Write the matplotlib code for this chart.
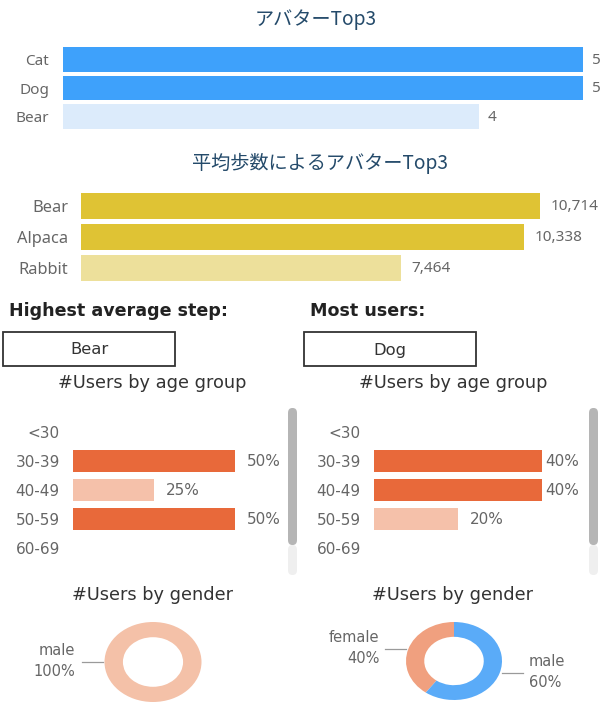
import matplotlib
matplotlib.use('Agg')
import matplotlib.pyplot as plt
from matplotlib.patches import Rectangle, FancyBboxPatch
from matplotlib.lines import Line2D
import numpy as np

# ---------------- data ----------------
top_title = 'アバターTop3'
top_cats = ['Cat', 'Dog', 'Bear']
top_vals = [5, 5, 4]

step_title = '平均歩数によるアバターTop3'
step_cats = ['Bear', 'Alpaca', 'Rabbit']
step_vals = [10714, 10338, 7464]

panel_headers = ['Highest average step:', 'Most users:']
panel_values = ['Bear', 'Dog']

age_title = '#Users by age group'
age_groups = ['<30', '30-39', '40-49', '50-59', '60-69']
age_left = [0, 50, 25, 50, 0]
age_right = [0, 40, 40, 20, 0]

gender_title = '#Users by gender'
gender_left_labels = ['male']
gender_left_vals = [100]
gender_right_labels = ['female', 'male']
gender_right_vals = [40, 60]

# ---------------- styles ----------------
W, H = 610, 706
fig = plt.figure(figsize=(W / 100, H / 100), dpi=100)
fig.patch.set_facecolor('white')

JP = ['Noto Sans CJK JP', 'DejaVu Sans']
SANS = ['Noto Sans', 'DejaVu Sans']
WIDE = ['DejaVu Sans']
GREY = '#666666'
TITLE_BLUE = '#244a6a'


def ax_px(x0, y0, x1, y1):
    return fig.add_axes([x0 / W, 1 - y1 / H, (x1 - x0) / W, (y1 - y0) / H])


def fx(x):
    return x / W


def fy(y):
    return 1 - y / H


def clean(ax):
    for s in ax.spines.values():
        s.set_visible(False)
    ax.patch.set_alpha(0)
    ax.set_xticks([])


def hbar(ax, cats, vals, colors, xmax, height, fmt, tick_size, val_size,
         tick_pad, val_pads, family):
    ypos = np.arange(len(cats))
    ax.barh(ypos, vals, height=height, color=colors)
    ax.set_ylim(len(cats) - 0.5, -0.5)
    ax.set_xlim(0, xmax)
    ax.set_yticks(ypos, cats)
    ax.tick_params(axis='y', length=0, pad=tick_pad, labelsize=tick_size, labelcolor=GREY)
    for lab in ax.get_yticklabels():
        lab.set_fontfamily(family)
    clean(ax)
    for i, v in enumerate(vals):
        if v:
            ax.annotate(fmt(v), (v, i), xytext=(val_pads[i], -0.5), textcoords='offset points',
                        va='center', ha='left', fontsize=val_size, color=GREY,
                        family=family, annotation_clip=False)


# ---------------- top chart ----------------
fig.text(fx(316), fy(20), top_title, ha='center', va='center', fontsize=13.8,
         color=TITLE_BLUE, family=JP)
ax1 = ax_px(63, 45, 583, 131)
mx = max(top_vals)
hbar(ax1, top_cats, top_vals,
     ['#3ea1fb' if v == mx else '#dcebfb' for v in top_vals],
     mx, 0.87, lambda v: f'{v}', 11, 11, 10, [6.5] * 3, SANS)

# ---------------- average step chart ----------------
fig.text(fx(320), fy(163), step_title, ha='center', va='center', fontsize=13.8,
         color=TITLE_BLUE, family=JP)
ax2 = ax_px(81, 190.5, 540, 283.5)
smx = max(step_vals)
hbar(ax2, step_cats, step_vals,
     ['#dfc334', '#dfc334', '#ede09b'],
     smx, 0.84, lambda v: f'{v:,}', 11.8, 11, 9, [7.5] * 3, SANS)

# ---------------- panels ----------------
panel_x = [0, 301]
for k in range(2):
    ox = panel_x[k]
    fig.text(fx(ox + 9), fy(311), panel_headers[k], ha='left', va='center',
             fontsize=12.6, fontweight='bold', color='#222222', family=WIDE)
    fig.add_artist(Rectangle((fx(ox + 3), fy(366)), 172 / W, 34 / H,
                             transform=fig.transFigure, fill=False,
                             edgecolor='#333333', linewidth=1.3))
    fig.text(fx(ox + 89), fy(350), panel_values[k], ha='center', va='center',
             fontsize=11.8, color='#333333', family=WIDE)
    fig.text(fx(ox + 152), fy(383), age_title, ha='center', va='center',
             fontsize=12.8, color='#333333', family=WIDE)
    fig.text(fx(ox + 152), fy(595), gender_title, ha='center', va='center',
             fontsize=12.8, color='#333333', family=WIDE)
    # scrollbar
    fig.add_artist(FancyBboxPatch((fx(ox + 288), fy(575)), 9 / W, 30 / H,
                                  boxstyle='round,pad=0,rounding_size=0.007',
                                  transform=fig.transFigure, facecolor='#efefef',
                                  edgecolor='none'))
    fig.add_artist(FancyBboxPatch((fx(ox + 288), fy(545)), 9 / W, 137 / H,
                                  boxstyle='round,pad=0,rounding_size=0.007',
                                  transform=fig.transFigure, facecolor='#b5b5b5',
                                  edgecolor='none'))

# age bars
DARK_OR = '#e8693a'
LIGHT_OR = '#f5c1aa'
for k, (vals, x0, x1, pads) in enumerate([
        (age_left, 73, 235, [8.5] * 5),
        (age_right, 374, 542, None)]):
    m = max(vals)
    if pads is None:
        pads = [2.5 if v == m else 8.5 for v in vals]
    ax = ax_px(x0, 417.4, x1, 562.6)
    hbar(ax, age_groups, vals, [DARK_OR if v == m else LIGHT_OR for v in vals],
         m, 0.76, lambda v: f'{v}%', 11, 11, 9.5, pads, WIDE)

# donuts
MALE_SOLO = '#f4c1a8'
FEMALE = '#f0a07f'
MALE = '#5aabf8'


def donut(cx, cy, rx, ry, vals, labels, colors, start):
    ax = ax_px(cx - rx, cy - ry, cx + rx, cy + ry)
    ax.pie(vals, colors=colors, startangle=start, counterclock=True,
           radius=1, wedgeprops=dict(width=0.38, edgecolor='none'))
    ax.set_aspect('auto')
    ax.set_xlim(-1, 1)
    ax.set_ylim(-1, 1)
    ax.axis('off')
    total = sum(vals)
    acc = 0
    for v, lab in zip(vals, labels):
        mid = np.deg2rad(start + 360 * (acc + v / 2) / total)
        acc += v
        ex, ey = np.cos(mid), np.sin(mid)
        side = -1 if ex < 0 else 1
        px = cx + ex * rx + side * 2
        py = cy - ey * ry
        fig.add_artist(Line2D([fx(px), fx(px + side * 21)], [fy(py), fy(py)],
                              transform=fig.transFigure, color='#9a9a9a', lw=0.9))
        tx = px + side * 27
        fig.text(fx(tx), fy(py - 1), f'{lab}\n{v * 100 // total}%',
                 ha='right' if side < 0 else 'left', va='center', fontsize=10.5,
                 color=GREY, family=WIDE, linespacing=1.45)


donut(153, 662, 48.5, 40, gender_left_vals, gender_left_labels, [MALE_SOLO], 0)
donut(454, 661, 48, 39, gender_right_vals, gender_right_labels, [FEMALE, MALE], 90)

fig.savefig('out.png', dpi=100, facecolor='white')
